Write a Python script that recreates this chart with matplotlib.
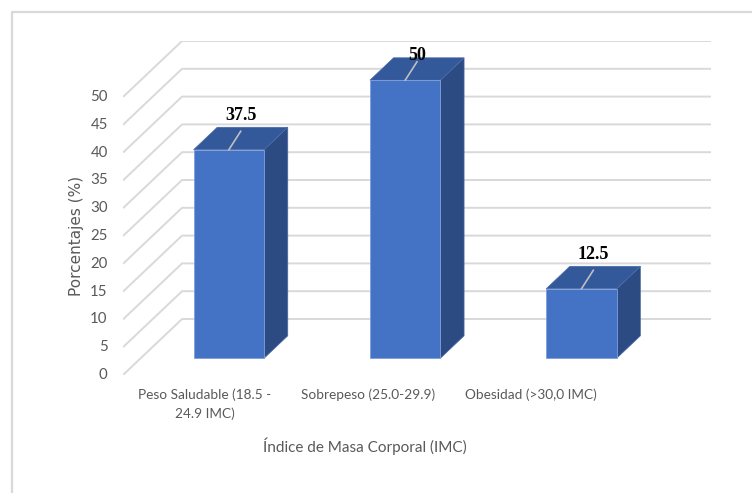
import matplotlib
matplotlib.use("Agg")
import matplotlib.pyplot as plt
from matplotlib.patches import Polygon
from matplotlib.lines import Line2D

# Data
categories = ["Peso Saludable (18.5 -\n24.9 IMC)", "Sobrepeso (25.0-29.9)", "Obesidad (>30,0 IMC)"]
values = [37.5, 50, 12.5]
value_labels = ["37.5", "50", "12.5"]
yticks = [0, 5, 10, 15, 20, 25, 30, 35, 40, 45, 50]

# 3D-look geometry (in data units)
DX = 0.335      # horizontal shift of the back wall, in category units
DY = 10.07      # vertical shift of the back wall, in value units
BAR_W = 0.4
D0, D1 = 0.3, 0.7   # bar depth range (fraction of full depth)
YMAX = 50

FRONT = "#4472C4"
TOP = "#34599B"
SIDE = "#2C4B82"
GRID = "#d9d9d9"
TXT = "#595959"

fig = plt.figure(figsize=(7.52, 4.93), dpi=100)
W, H = 752, 493
ax = fig.add_axes([123 / W, (H - 375) / H, 588 / W, 334 / H])
ax.set_xlim(-0.5, len(values) - 0.5 + DX)
ax.set_ylim(0, YMAX + DY)
ax.axis("off")


def P(x, y, d):
    return (x + d * DX, y + d * DY)


# Side wall and back wall gridlines
x_left = -0.5
x_right = len(values) - 0.5
for v in yticks:
    a = P(x_left, v, 0)
    b = P(x_left, v, 1)
    c = P(x_right, v, 1)
    ax.plot([a[0], b[0], c[0]], [a[1], b[1], c[1]], color=GRID, lw=1.4,
            solid_capstyle="butt", zorder=1)
    ax.annotate(str(v), xy=(x_left, v), xytext=(-11, 0), textcoords="offset points",
                ha="right", va="center", fontsize=10.8, color=TXT, family="Lato")

# Bars
for i, v in enumerate(values):
    x0, x1 = i - BAR_W / 2, i + BAR_W / 2
    front = [P(x0, 0, D0), P(x1, 0, D0), P(x1, v, D0), P(x0, v, D0)]
    side = [P(x1, 0, D0), P(x1, 0, D1), P(x1, v, D1), P(x1, v, D0)]
    top = [P(x0, v, D0), P(x1, v, D0), P(x1, v, D1), P(x0, v, D1)]
    ax.add_patch(Polygon(side, closed=True, facecolor=SIDE, edgecolor="#4a6aa8", lw=0.5, zorder=3))
    ax.add_patch(Polygon(top, closed=True, facecolor=TOP, edgecolor="#4a6aa8", lw=0.5, zorder=3))
    ax.add_patch(Polygon(front, closed=True, facecolor=FRONT, edgecolor="#7f9fdc", lw=0.6, zorder=4))

    # leader line and value label
    s = P(i, v, D0)
    e = P(i, v + 1.3, 0.5)
    ax.plot([s[0], e[0]], [s[1], e[1]], color="#bfbfbf", lw=1.2, zorder=5)
    ly = min(v + 4.1, YMAX + 2.5)
    lp = P(i, ly, 0.5)
    ax.text(lp[0], lp[1], value_labels[i], ha="center", va="center", fontsize=13,
            fontweight="bold", family="Liberation Serif", color="black", zorder=6,
            clip_on=False)

# Category labels along the front edge
for i, lab in enumerate(categories):
    lx = i * 0.925 - 0.035
    ax.annotate(lab, xy=(lx, 0), xytext=(0, -9.5), textcoords="offset points",
                ha="center", va="top", fontsize=9.8, color=TXT, family="Lato",
                linespacing=1.65, annotation_clip=False)

# Axis titles
fig.text(365 / W, 1 - 446 / H, "Índice de Masa Corporal (IMC)", ha="center", va="center",
         fontsize=11, color=TXT, family="Lato")
fig.text(77 / W, 1 - 236 / H, "Porcentajes (%)", ha="center", va="center", rotation=90,
         fontsize=11, color=TXT, family="DejaVu Sans")

# Chart frame (top and left edges)
fig.add_artist(Line2D([12 / W, 12 / W, 1.0], [0.0, 1 - 12 / H, 1 - 12 / H],
                      transform=fig.transFigure, color=GRID, lw=1.6))

fig.savefig("out.png", dpi=100)
